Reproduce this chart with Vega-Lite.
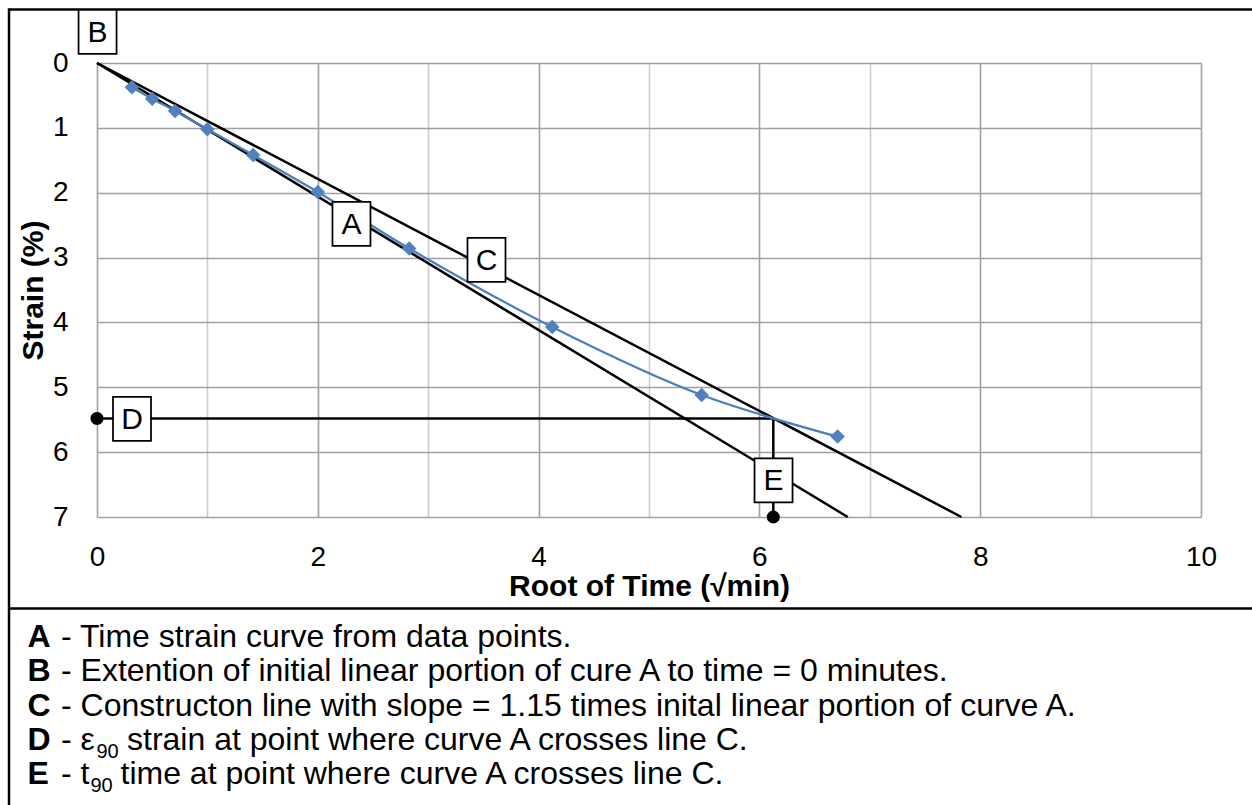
{
  "$schema": "https://vega.github.io/schema/vega-lite/v6.json",
  "width": 1104,
  "height": 454,
  "autosize": {"type": "none"},
  "padding": {"left": 97, "top": 63, "right": 51, "bottom": 288},
  "background": "white",
  "config": {"font": "Liberation Sans", "view": {"stroke": null}},
  "datasets": {
    "frame": [{"x": -0.797, "x2": 10.9, "y": -0.826, "y2": 12.5}],
    "separator": [{"x": -0.797, "x2": 10.9, "y": 8.41}],
    "lines": [
      {"line": "B", "i": 0, "x": 0, "y": 0},
      {"line": "B", "i": 1, "x": 6.8, "y": 7},
      {"line": "C", "i": 0, "x": 0, "y": 0},
      {"line": "C", "i": 1, "x": 7.83, "y": 7},
      {"line": "D", "i": 0, "x": 0, "y": 5.48},
      {"line": "D", "i": 1, "x": 6.126, "y": 5.48},
      {"line": "E", "i": 0, "x": 6.126, "y": 5.48},
      {"line": "E", "i": 1, "x": 6.126, "y": 7}
    ],
    "points": [
      {"x": 0.316, "y": 0.375},
      {"x": 0.5, "y": 0.55},
      {"x": 0.707, "y": 0.74},
      {"x": 1.0, "y": 1.02},
      {"x": 1.414, "y": 1.42},
      {"x": 2.0, "y": 1.99},
      {"x": 2.828, "y": 2.86},
      {"x": 4.123, "y": 4.07},
      {"x": 5.477, "y": 5.12},
      {"x": 6.708, "y": 5.76}
    ],
    "dots": [{"x": 0, "y": 5.48}, {"x": 6.126, "y": 7}],
    "labels": [
      {"label": "B", "x": 0.005, "y": -0.478},
      {"label": "A", "x": 2.305, "y": 2.48},
      {"label": "C", "x": 3.528, "y": 3.035},
      {"label": "D", "x": 0.317, "y": 5.486},
      {"label": "E", "x": 6.128, "y": 6.435}
    ],
    "legend": [
      {"row": 0, "key": "A", "text": "- Time strain curve from data points."},
      {"row": 1, "key": "B", "text": "- Extention of initial linear portion of cure A to time = 0 minutes."},
      {"row": 2, "key": "C", "text": "- Constructon line with slope = 1.15 times inital linear portion of curve A."},
      {"row": 3, "key": "D", "text": "- ε"},
      {"row": 4, "key": "E", "text": "- t"}
    ]
  },
  "resolve": {"scale": {"y": "independent"}},
  "layer": [
    {
      "layer": [
        {
          "data": {"name": "frame"},
          "mark": {"type": "rect", "fillOpacity": 0, "stroke": "black", "strokeWidth": 2.5, "clip": false},
          "encoding": {
            "x": {
              "field": "x", "type": "quantitative",
              "scale": {"domain": [0, 10], "nice": false, "zero": false},
              "axis": {
                "values": [0, 0.5, 1, 1.5, 2, 2.5, 3, 3.5, 4, 4.5, 5, 5.5, 6, 6.5, 7, 7.5, 8, 8.5, 9, 9.5, 10],
                "format": "d",
                "grid": true,
                "gridColor": {"condition": {"test": "datum.value % 2 === 0", "value": "#a0a0a0"}, "value": "#cccccc"},
                "gridWidth": 1.6,
                "ticks": false, "tickSize": 0, "domain": false,
                "labelExpr": "datum.value % 2 === 0 ? datum.label : ''",
                "labelOverlap": false, "labelFlush": false,
                "labelFontSize": 28, "labelColor": "black", "labelPadding": 26,
                "title": "Root of Time (√min)", "titleFontSize": 30, "titleFontWeight": "bold",
                "titleColor": "black", "titlePadding": 0
              }
            },
            "x2": {"field": "x2"},
            "y": {
              "field": "y", "type": "quantitative",
              "scale": {"domain": [0, 7], "nice": false, "zero": false, "reverse": true},
              "axis": {
                "values": [0, 1, 2, 3, 4, 5, 6, 7],
                "format": "d",
                "grid": true, "gridColor": "#a0a0a0", "gridWidth": 1.6,
                "ticks": false, "tickSize": 0, "domain": false,
                "labelFontSize": 28, "labelColor": "black", "labelPadding": 29,
                "labelOverlap": false, "labelFlush": false,
                "title": "Strain (%)", "titleFontSize": 30, "titleFontWeight": "bold",
                "titleColor": "black", "titlePadding": 4
              }
            },
            "y2": {"field": "y2"}
          }
        },
        {
          "data": {"name": "separator"},
          "mark": {"type": "rule", "stroke": "black", "strokeWidth": 2.5, "clip": false},
          "encoding": {
            "x": {"field": "x", "type": "quantitative"},
            "x2": {"field": "x2"},
            "y": {"field": "y", "type": "quantitative"}
          }
        },
        {
          "data": {"name": "lines"},
          "mark": {"type": "line", "stroke": "black", "strokeWidth": 2.5, "clip": false},
          "encoding": {
            "x": {"field": "x", "type": "quantitative"},
            "y": {"field": "y", "type": "quantitative"},
            "detail": {"field": "line"},
            "order": {"field": "i"}
          }
        },
        {
          "data": {"name": "points"},
          "mark": {"type": "line", "stroke": "#4A7EBB", "strokeWidth": 2.25, "interpolate": "catmull-rom"},
          "encoding": {
            "x": {"field": "x", "type": "quantitative"},
            "y": {"field": "y", "type": "quantitative"}
          }
        },
        {
          "data": {"name": "points"},
          "mark": {"type": "point", "shape": "diamond", "filled": true, "fill": "#4F81BD", "opacity": 1, "size": 210, "strokeWidth": 0},
          "encoding": {
            "x": {"field": "x", "type": "quantitative"},
            "y": {"field": "y", "type": "quantitative"}
          }
        },
        {
          "data": {"name": "dots"},
          "mark": {"type": "point", "shape": "circle", "filled": true, "fill": "black", "opacity": 1, "size": 170, "strokeWidth": 0, "clip": false},
          "encoding": {
            "x": {"field": "x", "type": "quantitative"},
            "y": {"field": "y", "type": "quantitative"}
          }
        },
        {
          "data": {"name": "labels"},
          "mark": {"type": "rect", "width": 38, "height": 44, "fill": "white", "stroke": "black", "strokeWidth": 1.75, "clip": false},
          "encoding": {
            "x": {"field": "x", "type": "quantitative"},
            "y": {"field": "y", "type": "quantitative"}
          }
        },
        {
          "data": {"name": "labels"},
          "mark": {"type": "text", "fontSize": 30, "align": "center", "baseline": "middle", "dy": 1, "color": "black", "clip": false},
          "encoding": {
            "x": {"field": "x", "type": "quantitative"},
            "y": {"field": "y", "type": "quantitative"},
            "text": {"field": "label"}
          }
        }
      ]
    },
    {
      "layer": [
        {
          "data": {"name": "legend"},
          "mark": {"type": "text", "fontSize": 32, "fontWeight": "bold", "align": "left", "baseline": "alphabetic", "color": "black", "clip": false},
          "encoding": {
            "x": {"datum": -0.63, "type": "quantitative"},
            "y": {"field": "row", "type": "quantitative", "scale": {"domain": [0, 4], "range": [584, 721], "nice": false, "zero": false}, "axis": null},
            "text": {"field": "key"}
          }
        },
        {
          "data": {"name": "legend"},
          "mark": {"type": "text", "fontSize": 32, "align": "left", "baseline": "alphabetic", "color": "black", "clip": false},
          "encoding": {
            "x": {"datum": -0.326, "type": "quantitative"},
            "y": {"field": "row", "type": "quantitative", "axis": null},
            "text": {"field": "text"}
          }
        },
        {
          "data": {"values": [{"row": 3, "t": "90"}]},
          "mark": {"type": "text", "fontSize": 20, "dy": 8, "align": "left", "baseline": "alphabetic", "color": "black", "clip": false},
          "encoding": {
            "x": {"datum": -0.005, "type": "quantitative"},
            "y": {"field": "row", "type": "quantitative", "axis": null},
            "text": {"field": "t"}
          }
        },
        {
          "data": {"values": [{"row": 4, "t": "90"}]},
          "mark": {"type": "text", "fontSize": 20, "dy": 8, "align": "left", "baseline": "alphabetic", "color": "black", "clip": false},
          "encoding": {
            "x": {"datum": -0.059, "type": "quantitative"},
            "y": {"field": "row", "type": "quantitative", "axis": null},
            "text": {"field": "t"}
          }
        },
        {
          "data": {"values": [{"row": 3, "t": "strain at point where curve A crosses line C."}]},
          "mark": {"type": "text", "fontSize": 32, "align": "left", "baseline": "alphabetic", "color": "black", "clip": false},
          "encoding": {
            "x": {"datum": 0.272, "type": "quantitative"},
            "y": {"field": "row", "type": "quantitative", "axis": null},
            "text": {"field": "t"}
          }
        },
        {
          "data": {"values": [{"row": 4, "t": "time at point where curve A crosses line C."}]},
          "mark": {"type": "text", "fontSize": 32, "align": "left", "baseline": "alphabetic", "color": "black", "clip": false},
          "encoding": {
            "x": {"datum": 0.213, "type": "quantitative"},
            "y": {"field": "row", "type": "quantitative", "axis": null},
            "text": {"field": "t"}
          }
        }
      ]
    }
  ]
}
